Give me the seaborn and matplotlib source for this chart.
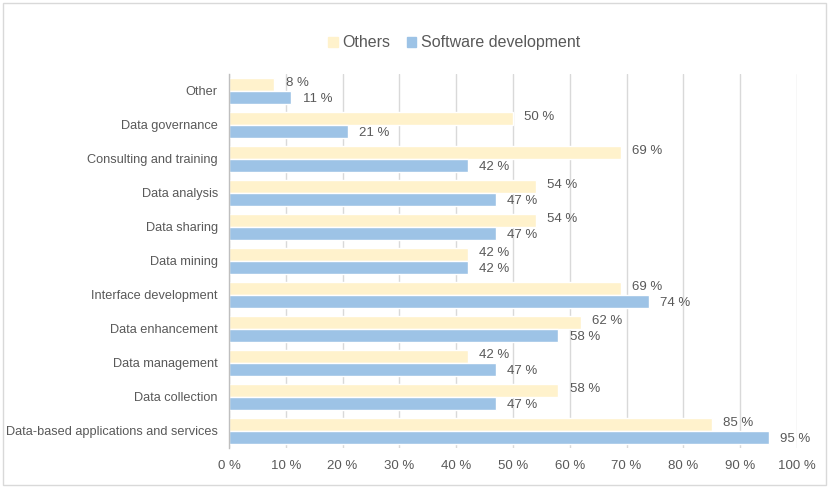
import matplotlib
matplotlib.use("Agg")
import matplotlib.pyplot as plt
import seaborn as sns
import pandas as pd
from matplotlib.patches import Rectangle

categories = [
    "Other",
    "Data governance",
    "Consulting and training",
    "Data analysis",
    "Data sharing",
    "Data mining",
    "Interface development",
    "Data enhancement",
    "Data management",
    "Data collection",
    "Data-based applications and services",
]
others = [8, 50, 69, 54, 54, 42, 69, 62, 42, 58, 85]
software_dev = [11, 21, 42, 47, 47, 42, 74, 58, 47, 47, 95]
series_names = ["Others", "Software development"]
x_ticks = [0, 10, 20, 30, 40, 50, 60, 70, 80, 90, 100]

df = pd.DataFrame({
    "category": categories * 2,
    "series": [series_names[0]] * len(categories) + [series_names[1]] * len(categories),
    "value": others + software_dev,
})

sns.set_theme(style="white")
plt.rcParams["font.family"] = ["Liberation Sans", "DejaVu Sans"]
text_color = "#595959"
palette = {"Others": "#FFF2CC", "Software development": "#9DC3E6"}

fig = plt.figure(figsize=(8.29, 4.88), dpi=100)
ax = fig.add_axes([0.2762, 0.082, 0.6852, 0.7664])

sns.barplot(data=df, y="category", x="value", hue="series", order=categories,
            hue_order=series_names, palette=palette, width=0.74, orient="h",
            saturation=1, ax=ax, legend=False)

ax.set_xlim(0, 100)
ax.set_xticks(x_ticks)
ax.set_xticklabels([f"{t} %" for t in x_ticks], color=text_color, fontsize=9.5)
ax.set_ylim(len(categories) - 0.5, -0.5)
ax.tick_params(axis="y", labelsize=9.2, labelcolor=text_color, length=0, pad=8)
ax.tick_params(axis="x", length=0, pad=9)
ax.set_xlabel("")
ax.set_ylabel("")
ax.xaxis.grid(True, color="#D9D9D9", linewidth=1)
ax.set_axisbelow(True)
for side in ["top", "right", "bottom"]:
    ax.spines[side].set_visible(False)
ax.spines["left"].set_color("#BFBFBF")
ax.spines["left"].set_linewidth(1)

# value labels at the end of each bar
for container, name, dy in zip(ax.containers, series_names, (1.5, -1.5)):
    for bar in container:
        w = bar.get_width()
        ax.annotate(f"{w:.0f} %", xy=(w, bar.get_y() + bar.get_height() / 2),
                    xytext=(8, dy), textcoords="offset points",
                    ha="left", va="center", fontsize=9.5, color=text_color,
                    annotation_clip=False)

# legend above the plot
handles = [Rectangle((0, 0), 1, 1, color=palette[n]) for n in series_names]
fig.legend(handles, series_names, loc="center", bbox_to_anchor=(0.548, 0.912),
           ncol=2, frameon=False, fontsize=11.5, labelcolor=text_color,
           handlelength=0.6, handleheight=0.6, handletextpad=0.3, columnspacing=1.0)

# thin frame around the whole chart
fig.patches.append(Rectangle((0.004, 0.006), 0.992, 0.988, transform=fig.transFigure,
                             fill=False, edgecolor="#D9D9D9", linewidth=1))

fig.savefig("out.png", dpi=100)
